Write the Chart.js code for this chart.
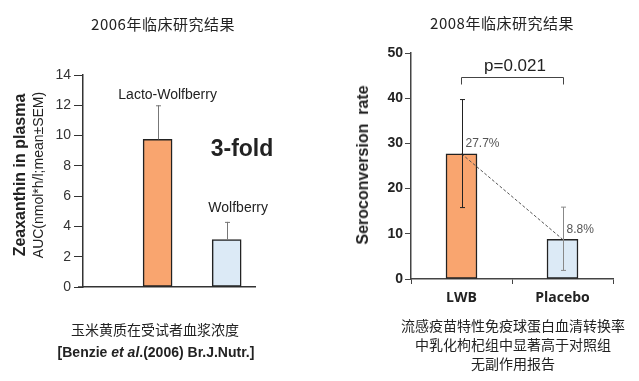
<!DOCTYPE html>
<html>
<head>
<meta charset="utf-8">
<script src="https://cdn.jsdelivr.net/npm/chart.js@4.4.1/dist/chart.umd.min.js"></script>
<style>
  html, body { margin: 0; padding: 0; background: #fff; }
  #wrap { position: relative; width: 639px; height: 381px; overflow: hidden; background: #fff; }
  canvas { position: absolute; top: 0; }
  .t { position: absolute; transform: translate(-50%, -50%); white-space: nowrap; line-height: 1; color: #222; }
  .rot { transform: translate(-50%, -50%) rotate(-90deg); }
  .cjk { font-family: "Noto Sans CJK SC", sans-serif; }
  .lat { font-family: "Liberation Sans", Arial, sans-serif; }
</style>
</head>
<body>
<div id="wrap">
  <canvas id="left" width="320" height="381" style="left:0"></canvas>
  <canvas id="right" width="319" height="381" style="left:320px"></canvas>

  <div class="t cjk" style="left:163px; top:23px; font-size:15px; letter-spacing:0.5px;">2006年临床研究结果</div>
  <div class="t cjk" style="left:502px; top:22px; font-size:15px; letter-spacing:0.5px;">2008年临床研究结果</div>

  <div class="t lat rot" style="left:20px; top:175px; font-size:16px; font-weight:bold;">Zeaxanthin in plasma</div>
  <div class="t lat rot" style="left:38px; top:175px; font-size:14px;">AUC(nmol*h/l;mean±SEM)</div>
  <div class="t lat rot" style="left:363px; top:165px; font-size:16px; font-weight:bold;">Seroconversion&nbsp; rate</div>

  <div class="t lat" style="left:242px; top:148px; font-size:23px; font-weight:bold;">3-fold</div>

  <div class="t cjk" style="left:155px; top:329px; font-size:14px;">玉米黄质在受试者血浆浓度</div>
  <div class="t lat" style="left:156px; top:352px; font-size:14px; font-weight:bold;">[Benzie <i>et al</i>.(2006) Br.J.Nutr.]</div>

  <div class="t cjk" style="left:513px; top:325px; font-size:14px;">流感疫苗特性免疫球蛋白血清转换率</div>
  <div class="t cjk" style="left:513px; top:344px; font-size:14px;">中乳化枸杞组中显著高于对照组</div>
  <div class="t cjk" style="left:513px; top:363px; font-size:14px;">无副作用报告</div>
</div>
<script>
// ---------- data ----------
const leftCategories = ['Lacto-Wolfberry', 'Wolfberry'];
const leftValues = [9.75, 3.13];
const leftErrorTop = [12.0, 4.3];
const leftTicks = [0, 2, 4, 6, 8, 10, 12, 14];

const rightCategories = ['LWB', 'Placebo'];
const rightValues = [27.7, 8.8];
const rightErrorLow = [15.8, 1.9];
const rightErrorHigh = [39.7, 15.9];
const rightValueLabels = ['27.7%', '8.8%'];
const rightTicks = [0, 10, 20, 30, 40, 50];
const pValueText = 'p=0.021';

// ---------- styles ----------
const ORANGE = '#F9A56F';
const BLUE = '#DCEAF6';
const INK = '#222';
Chart.defaults.font.family = '"Liberation Sans", Arial, sans-serif';
Chart.defaults.animation = false;

const leftAnnot = {
  id: 'leftAnnot',
  afterDatasetsDraw(chart) {
    const { ctx, scales: { y } } = chart;
    const meta = chart.getDatasetMeta(0);
    ctx.save();
    ctx.strokeStyle = '#333';
    ctx.lineWidth = 1.5;
    ctx.beginPath();
    ctx.moveTo(chart.chartArea.left - 5, chart.chartArea.bottom);
    ctx.lineTo(chart.chartArea.left, chart.chartArea.bottom);
    ctx.stroke();
    meta.data.forEach((bar, i) => {
      const cx = Math.round(bar.x) + 0.5;
      const et = y.getPixelForValue(leftErrorTop[i]);
      ctx.strokeStyle = '#777';
      ctx.lineWidth = 1;
      ctx.beginPath();
      ctx.moveTo(cx, bar.y);
      ctx.lineTo(cx, et);
      ctx.moveTo(cx - 2.5, et + 0.5);
      ctx.lineTo(cx + 2.5, et + 0.5);
      ctx.stroke();
      ctx.fillStyle = INK;
      ctx.font = '14px "Liberation Sans", Arial, sans-serif';
      ctx.textAlign = 'center';
      ctx.textBaseline = 'middle';
      ctx.fillText(leftCategories[i], bar.x + (i === 0 ? 10 : 11.5), et - (i === 0 ? 10 : 14));
    });
    ctx.restore();
  }
};

const rightAnnot = {
  id: 'rightAnnot',
  afterDatasetsDraw(chart) {
    const { ctx, scales: { y } } = chart;
    const meta = chart.getDatasetMeta(0);
    const bars = meta.data;
    ctx.save();
    ctx.strokeStyle = '#555';
    ctx.lineWidth = 1;
    ctx.setLineDash([3, 2]);
    ctx.beginPath();
    ctx.moveTo(bars[0].x, bars[0].y);
    ctx.lineTo(bars[1].x, bars[1].y);
    ctx.stroke();
    ctx.setLineDash([]);
    bars.forEach((bar, i) => {
      const cx = Math.round(bar.x) + 0.5;
      const lo = y.getPixelForValue(rightErrorLow[i]);
      const hi = y.getPixelForValue(rightErrorHigh[i]);
      ctx.strokeStyle = i === 0 ? '#222' : '#888';
      ctx.lineWidth = 1;
      ctx.beginPath();
      ctx.moveTo(cx, lo); ctx.lineTo(cx, hi);
      ctx.moveTo(cx - 2.5, hi); ctx.lineTo(cx + 2.5, hi);
      ctx.moveTo(cx - 2.5, lo); ctx.lineTo(cx + 2.5, lo);
      ctx.stroke();
      ctx.fillStyle = '#555';
      ctx.font = '12px "Liberation Sans", Arial, sans-serif';
      ctx.textAlign = 'left';
      ctx.textBaseline = 'middle';
      ctx.fillText(rightValueLabels[i], bar.x + 4, bar.y - 10);
    });
    const by = 77.5;
    ctx.strokeStyle = '#444';
    ctx.beginPath();
    ctx.moveTo(bars[0].x, by + 7);
    ctx.lineTo(bars[0].x, by);
    ctx.lineTo(bars[1].x + 1, by);
    ctx.lineTo(bars[1].x + 1, by + 7);
    ctx.stroke();
    ctx.fillStyle = INK;
    ctx.font = '17px "Liberation Sans", Arial, sans-serif';
    ctx.textAlign = 'center';
    ctx.textBaseline = 'middle';
    ctx.fillText(pValueText, (bars[0].x + bars[1].x) / 2 + 3, 66);
    ctx.restore();
  }
};

new Chart(document.getElementById('left'), {
  type: 'bar',
  data: {
    datasets: [{
      data: leftCategories.map((c, i) => ({ x: i + 1, y: leftValues[i] })),
      backgroundColor: [ORANGE, BLUE],
      borderColor: INK,
      borderWidth: 1.5,
      borderSkipped: false,
      barThickness: 29
    }]
  },
  options: {
    responsive: false,
    devicePixelRatio: 1,
    layout: { padding: { top: 75, right: 65, left: 0, bottom: 0 } },
    plugins: { legend: { display: false }, tooltip: { enabled: false } },
    scales: {
      x: {
        type: 'linear',
        offset: false,
        min: -0.08, max: 2.41,
        ticks: { display: false },
        grid: { display: false },
        border: { display: true, color: '#333', width: 1.5 },
        afterFit: s => { s.height = 94; }
      },
      y: {
        min: 0, max: 14,
        afterBuildTicks: s => { s.ticks = leftTicks.map(v => ({ value: v })); },
        ticks: { color: '#333', font: { size: 14 }, padding: 3 },
        grid: { drawOnChartArea: false, drawTicks: true, tickLength: 9, color: '#333', lineWidth: 1 },
        border: { display: true, color: '#333', width: 1.5 },
        afterFit: s => { s.width = 83; }
      }
    }
  },
  plugins: [leftAnnot]
});

new Chart(document.getElementById('right'), {
  type: 'bar',
  data: {
    labels: rightCategories,
    datasets: [{
      data: rightValues,
      backgroundColor: [ORANGE, BLUE],
      borderColor: INK,
      borderWidth: 1.5,
      borderSkipped: false,
      barThickness: 31
    }]
  },
  options: {
    responsive: false,
    devicePixelRatio: 1,
    layout: { padding: { top: 53, right: 26, left: 0, bottom: 0 } },
    plugins: { legend: { display: false }, tooltip: { enabled: false } },
    scales: {
      x: {
        offset: true,
        ticks: { color: INK, font: { size: 14, weight: 'bold', family: '"Open Sans", sans-serif' }, padding: 6 },
        grid: { offset: true, drawOnChartArea: false, drawTicks: true, tickLength: 5, color: '#444' },
        border: { display: true, color: '#444', width: 1.5 },
        afterFit: s => { s.height = 102; }
      },
      y: {
        min: 0, max: 50,
        afterBuildTicks: s => { s.ticks = rightTicks.map(v => ({ value: v })); },
        ticks: { color: INK, font: { size: 14, weight: 'bold' }, padding: 2 },
        grid: { drawOnChartArea: false, drawTicks: true, tickLength: 6, color: '#444' },
        border: { display: true, color: '#444', width: 1.5 },
        afterFit: s => { s.width = 91; }
      }
    }
  },
  plugins: [rightAnnot]
});
</script>
</body>
</html>
